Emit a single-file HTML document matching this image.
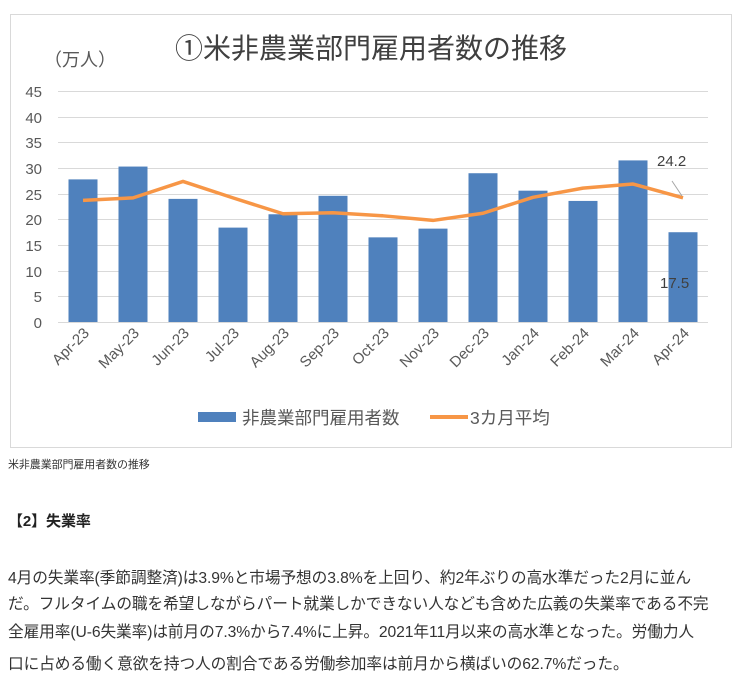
<!DOCTYPE html>
<html><head><meta charset="utf-8"><style>
body{margin:0;background:#fff;width:741px;height:695px;overflow:hidden;font-family:"Liberation Sans","Noto Sans CJK JP",sans-serif;}
.t{position:absolute;left:8px;color:#333;font-size:15.7px;white-space:nowrap;letter-spacing:-0.1px}
</style></head><body>
<svg width="741" height="460" style="position:absolute;left:0;top:0" font-family="Liberation Sans, Noto Sans CJK JP, sans-serif">
<rect x="10.5" y="14.5" width="721" height="433" fill="#fff" stroke="#d9d9d9"/>
<text x="371" y="58" font-size="28" fill="#404040" text-anchor="middle">①米非農業部門雇用者数の推移</text>
<text x="44" y="66" font-size="18" fill="#595959">（万人）</text>
<g stroke="#d9d9d9" stroke-width="1">
<line x1="58" x2="708" y1="91.5" y2="91.5"/><line x1="58" x2="708" y1="117.5" y2="117.5"/>
<line x1="58" x2="708" y1="142.5" y2="142.5"/><line x1="58" x2="708" y1="168.5" y2="168.5"/>
<line x1="58" x2="708" y1="194.5" y2="194.5"/><line x1="58" x2="708" y1="219.5" y2="219.5"/>
<line x1="58" x2="708" y1="245.5" y2="245.5"/><line x1="58" x2="708" y1="271.5" y2="271.5"/>
<line x1="58" x2="708" y1="296.5" y2="296.5"/><line x1="58" x2="708" y1="322.5" y2="322.5"/>
</g>
<g font-size="15" fill="#595959" text-anchor="end">
<text x="42" y="97">45</text><text x="42" y="123">40</text><text x="42" y="148">35</text><text x="42" y="174">30</text><text x="42" y="200">25</text><text x="42" y="225">20</text><text x="42" y="251">15</text><text x="42" y="277">10</text><text x="42" y="302">5</text><text x="42" y="328">0</text>
</g>
<g fill="#4f81bd" id="bars"></g>
<polyline id="ln" fill="none" stroke="#f79646" stroke-width="3.5" stroke-linejoin="round"/>
<g id="xl" font-size="15" fill="#595959"></g>
<line x1="672" y1="181" x2="682" y2="196" stroke="#a6a6a6"/>
<text x="657" y="166" font-size="15" fill="#404040">24.2</text>
<text x="660" y="288" font-size="15" fill="#404040">17.5</text>
<rect x="198" y="412" width="38" height="10" fill="#4f81bd"/>
<text x="242" y="424" font-size="17.5" fill="#595959">非農業部門雇用者数</text>
<rect x="430" y="415" width="38" height="4" fill="#f79646"/>
<text x="470" y="424" font-size="17.5" fill="#595959">3カ月平均</text>
</svg>
<div class="t" style="top:456px;font-size:11px;">米非農業部門雇用者数の推移</div>
<div class="t" style="top:510px;font-weight:bold;font-size:15px;color:#222">【2】失業率</div>
<div class="t" style="top:565px">4月の失業率(季節調整済)は3.9%と市場予想の3.8%を上回り、約2年ぶりの高水準だった2月に並ん</div>
<div class="t" style="top:591px">だ。フルタイムの職を希望しながらパート就業しかできない人なども含めた広義の失業率である不完</div>
<div class="t" style="top:619px">全雇用率(U-6失業率)は前月の7.3%から7.4%に上昇。2021年11月以来の高水準となった。労働力人</div>
<div class="t" style="top:651px">口に占める働く意欲を持つ人の割合である労働参加率は前月から横ばいの62.7%だった。</div>
<script>
var b=[27.8,30.3,24.0,18.4,21.0,24.6,16.5,18.2,29.0,25.6,23.6,31.5,17.5];
var l=[23.7,24.2,27.4,24.2,21.1,21.3,20.7,19.8,21.2,24.3,26.1,26.9,24.2];
var m=["Apr-23","May-23","Jun-23","Jul-23","Aug-23","Sep-23","Oct-23","Nov-23","Dec-23","Jan-24","Feb-24","Mar-24","Apr-24"];
var ns="http://www.w3.org/2000/svg",g=document.getElementById("bars"),x=document.getElementById("xl"),p=[];
for(var i=0;i<13;i++){var c=83+50*i,r=document.createElementNS(ns,"rect");
r.setAttribute("x",c-14.5);r.setAttribute("width",29);var y=322-b[i]*5.13;r.setAttribute("y",y);r.setAttribute("height",322-y);g.appendChild(r);
p.push(c+","+(322-l[i]*5.13));
var t=document.createElementNS(ns,"text");t.setAttribute("transform","translate("+(c+7)+",334) rotate(-45)");t.setAttribute("text-anchor","end");t.textContent=m[i];x.appendChild(t);}
document.getElementById("ln").setAttribute("points",p.join(" "));
</script>
</body></html>
